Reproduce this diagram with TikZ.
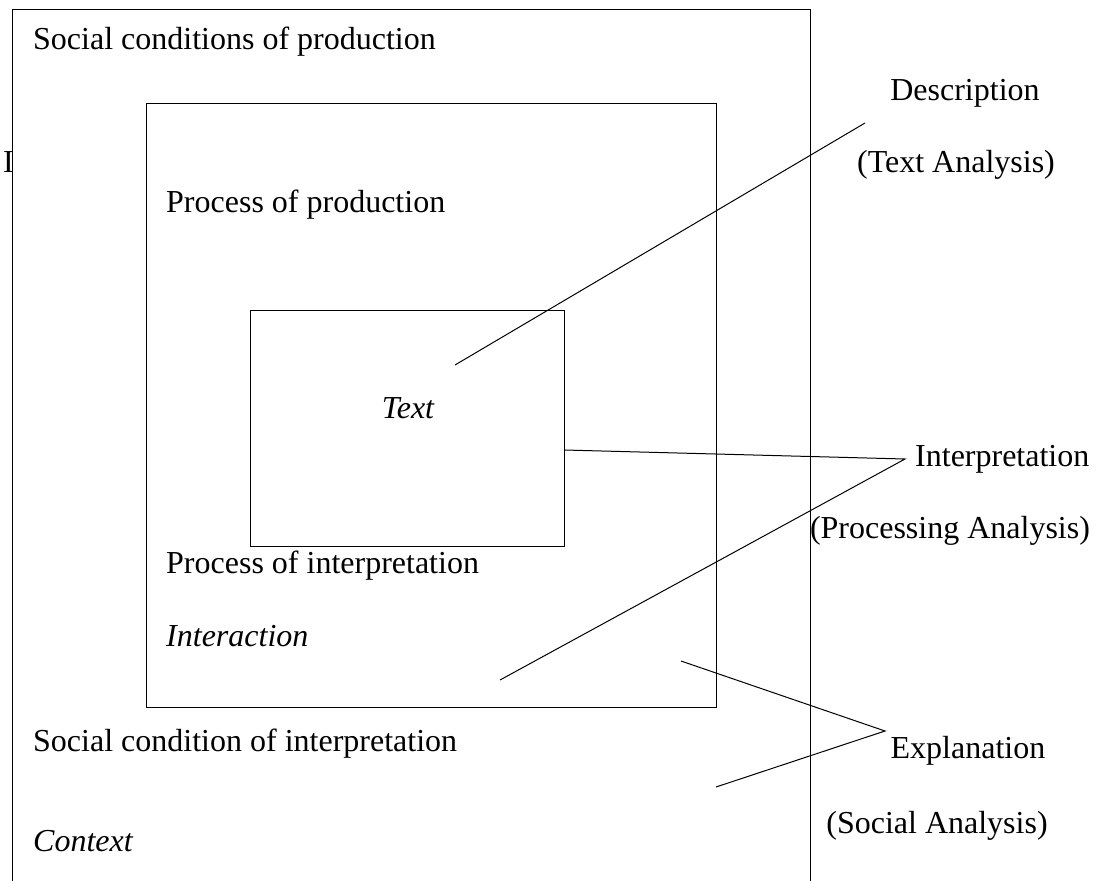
\documentclass[tikz,border=0pt]{standalone}
\usepackage{fontspec}
\setmainfont{Liberation Serif}
\begin{document}
\begin{tikzpicture}[x=1pt,y=-1pt,
  lbl/.style={inner sep=0pt,font=\fontsize{32}{38}\selectfont},
  lblw/.style={lbl,anchor=base west},
  lblc/.style={lbl,anchor=base},
  boxline/.style={draw=black,line width=1pt},
  conn/.style={draw=black,line width=1pt}]
\useasboundingbox (0,0) rectangle (1101,881);
\clip (0,0) rectangle (1101,881);
\fill[white] (0,0) rectangle (1101,881);
% boxes
\draw[boxline] (12,900) -- (12,9) -- (810,9) -- (810,900);
\node[boxline,inner sep=0pt,minimum width=570pt,minimum height=604pt,anchor=north west] (middle) at (146,103) {};
\node[boxline,inner sep=0pt,minimum width=314pt,minimum height=236pt,anchor=north west] (inner) at (250,310) {};
% labels
\node[lblw] (scp) at (33,49) {Social conditions of production};
\node[lblw] (Ileft) at (3,172) {I};
\node[lblw] (pop) at (166,212) {Process of production};
\node[lblc] (text) at (408,418) {\itshape Text};
\node[lblw] (poi) at (166,573) {Process of interpretation};
\node[lblw] (interaction) at (166,646) {\itshape Interaction};
\node[lblw] (sci) at (33,751) {Social condition of interpretation};
\node[lblw] (context) at (33,851) {\itshape Context};
\node[lblc] (desc) at (965,100) {Description};
\node[lblc] (tana) at (956,172) {(Text Analysis)};
\node[lblw] (interp) at (915,466) {Interpretation};
\node[lblc] (pana) at (950,538) {(Processing Analysis)};
\node[lblc] (expl) at (968,758) {Explanation};
\node[lblc] (sana) at (937,833) {(Social Analysis)};
% connector points
\coordinate (dTip) at (865,123);
\coordinate (dEnd) at (455,365);
\coordinate (iStart) at (564,450);
\coordinate (iTip) at (905,459);
\coordinate (iEnd) at (500,680);
\coordinate (eStart) at (681,661);
\coordinate (eTip) at (885,731);
\coordinate (eEnd) at (716,787);
\draw[conn] (dEnd) -- (dTip);
\draw[conn] (iStart) -- (iTip) -- (iEnd);
\draw[conn] (eStart) -- (eTip) -- (eEnd);
\end{tikzpicture}
\end{document}
